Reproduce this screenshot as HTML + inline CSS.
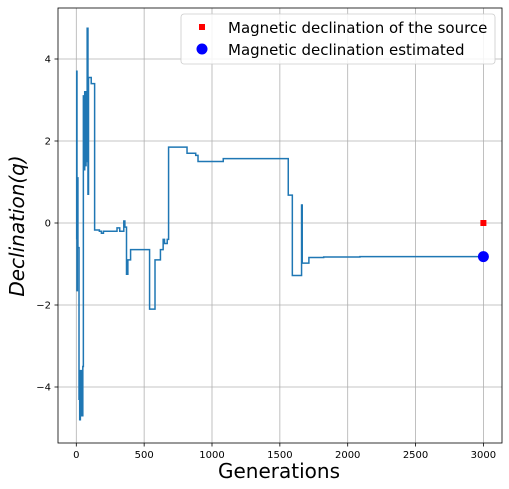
<!DOCTYPE html>
<html><head><meta charset="utf-8"><style>
html,body{margin:0;padding:0;background:#fff;}
svg{display:block;font-family:"DejaVu Sans","Liberation Sans",sans-serif;}
</style></head><body>
<svg id="chart" width="509" height="489" viewBox="0 0 509 489">
<g id="grid"></g>
<g id="series"></g>
<rect x="58" y="8" width="444" height="435" fill="none" stroke="#000" stroke-width="0.8"/>
<g id="ticks"></g>
<text x="279" y="478" font-size="20" text-anchor="middle">Generations</text>
<text transform="translate(24,226) rotate(-90)" font-size="20" font-style="italic" text-anchor="middle">Declination(q)</text>
<g>
<rect x="181" y="14" width="314" height="50" rx="3" fill="#fff" fill-opacity="0.85" stroke="#ccc" stroke-width="0.8"/>
<rect x="199" y="24" width="6" height="6" fill="red"/>
<text x="228" y="33" font-size="15">Magnetic declination of the source</text>
<circle cx="202" cy="49" r="5.5" fill="blue"/>
<text x="228" y="55" font-size="15">Magnetic declination estimated</text>
</g>
</svg>
<script>
const gens = [0,3,5,8,12,20,25,30,40,48,52,58,62,68,72,76,80,86,90,110,135,170,185,200,300,320,350,358,370,380,400,540,580,620,640,650,670,680,816,880,897,1083,1562,1592,1660,1665,1714,1823,2090,3000];
const vals = [-0.4,3.7,-1.65,1.1,-0.6,-4.3,-4.8,-3.6,-4.7,-3.5,3.1,1.3,3.2,1.4,3.2,1.5,4.75,0.7,3.55,3.4,-0.17,-0.2,-0.25,-0.2,-0.12,-0.2,0.05,-0.1,-1.25,-0.9,-0.65,-2.1,-0.9,-0.65,-0.4,-0.5,-0.4,1.85,1.7,1.65,1.5,1.57,0.68,-1.28,0.44,-0.98,-0.84,-0.83,-0.82,-0.82];
const sourceGen = [3000], sourceVal = [0];
const estGen = [3000], estVal = [-0.82];
const xTicks = [0,500,1000,1500,2000,2500,3000];
const yTicks = [-4,-2,0,2,4];
const NS="http://www.w3.org/2000/svg";
const X = g => 76.3 + g*0.1357;
const Y = v => 223 - v*41;
function mk(t,a,p){const e=document.createElementNS(NS,t);for(const k in a)e.setAttribute(k,a[k]);p.appendChild(e);return e;}
const grid=document.getElementById('grid'), ticks=document.getElementById('ticks'), series=document.getElementById('series');
xTicks.forEach(t=>{
  const l=mk('line',{x1:X(t),x2:X(t),y1:8,y2:443,stroke:'#b0b0b0','stroke-width':0.8},grid);
  
  
  const tk=mk('line',{x1:X(t),x2:X(t),y1:443,y2:446.5,stroke:'#000','stroke-width':0.8},ticks);
  
  
  const tx=mk('text',{x:X(t),y:458,'font-size':10,'text-anchor':'middle'},ticks);
  tx.textContent=t;
  
  
});
yTicks.forEach(t=>{
  const l=mk('line',{x1:58,x2:502,y1:Y(t),y2:Y(t),stroke:'#b0b0b0','stroke-width':0.8},grid);
  
  
  const tk=mk('line',{x1:54.5,x2:58,y1:Y(t),y2:Y(t),stroke:'#000','stroke-width':0.8},ticks);
  
  
  const tx=mk('text',{x:51,y:Y(t)+3.5,'font-size':10,'text-anchor':'end'},ticks);
  tx.textContent=String(t).replace('-','\u2212');
  
  
});
let d='M'+X(gens[0])+','+Y(vals[0]);
for(let i=1;i<gens.length;i++){d+=' H'+X(gens[i])+' V'+Y(vals[i]);}
const p=mk('path',{d:d,fill:'none',stroke:'#1f77b4','stroke-width':1.5},series);


sourceGen.forEach((g,i)=>{
  const r=mk('rect',{x:X(g)-3,y:Y(sourceVal[i])-3,width:6,height:6,fill:'red'},series);
  
  
});
estGen.forEach((g,i)=>{
  const c=mk('circle',{cx:X(g),cy:Y(estVal[i]),r:5.5,fill:'blue'},series);
  
  
});
</script>
</body></html>
